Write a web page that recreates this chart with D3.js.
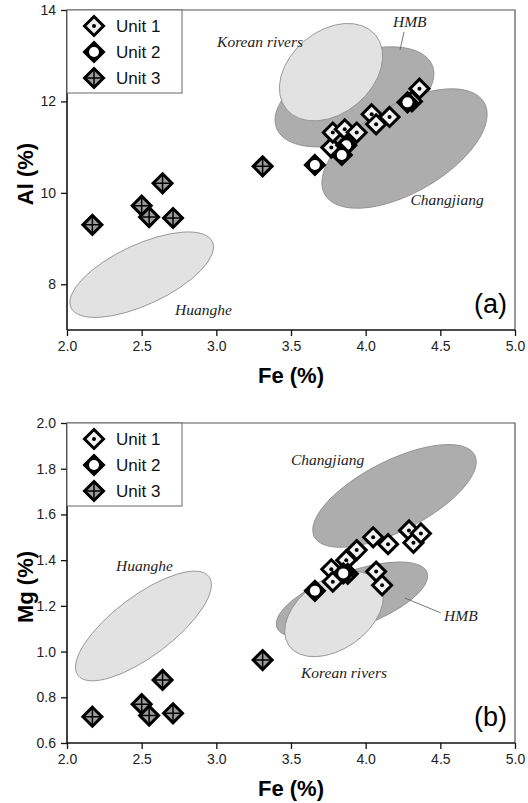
<!DOCTYPE html>
<html>
<head>
<meta charset="utf-8">
<script src="https://cdn.jsdelivr.net/npm/d3@7"></script>
<style>
  html, body { margin: 0; padding: 0; background: #fff; }
  svg { display: block; }
  text { font-family: Arial, "Liberation Sans", sans-serif; }
  .field { font-family: "Liberation Serif", "DejaVu Serif", serif; font-style: italic; }
</style>
</head>
<body>
<div id="chart"></div>
<script>
// ---- data ----
const xTicks = [2.0, 2.5, 3.0, 3.5, 4.0, 4.5, 5.0]
const alTicks = [8, 10, 12, 14]
const mgTicks = [0.6, 0.8, 1.0, 1.2, 1.4, 1.6, 1.8, 2.0]
const units = ['Unit 1', 'Unit 2', 'Unit 3']

// panel (a): Fe vs Al
const unit1FeA = [3.77, 3.78, 3.86, 3.94, 4.04, 4.07, 4.16, 4.31, 4.36]
const unit1Al = [10.99, 11.32, 11.39, 11.32, 11.72, 11.5, 11.66, 12.0, 12.28]
const unit2FeA = [3.66, 3.87, 3.84, 4.28]
const unit2Al = [10.61, 11.04, 10.83, 11.98]
const unit3FeA = [2.17, 2.5, 2.55, 2.64, 2.71, 3.31]
const unit3Al = [9.3, 9.72, 9.47, 10.21, 9.45, 10.58]

// panel (b): Fe vs Mg
const unit1FeB = [3.77, 3.78, 3.87, 3.94, 4.05, 4.07, 4.11, 4.15, 4.29, 4.32, 4.37]
const unit1Mg = [1.36, 1.306, 1.40, 1.444, 1.50, 1.35, 1.29, 1.47, 1.53, 1.476, 1.517]
const unit2FeB = [3.66, 3.88, 3.85]
const unit2Mg = [1.266, 1.34, 1.342]
const unit3FeB = [2.17, 2.5, 2.55, 2.64, 2.71, 3.31]
const unit3Mg = [0.715, 0.77, 0.72, 0.876, 0.73, 0.963]

// source fields: centre in data units
const fieldNames = ['HMB', 'Changjiang', 'Korean rivers', 'Huanghe']
const fieldFeA = [3.925, 4.26, 3.768, 2.5]
const fieldAl = [12.1, 10.97, 12.64, 8.21]
const fieldFeB = [3.908, 4.193, 3.788, 2.512]
const fieldMg = [1.226, 1.681, 1.164, 1.112]

// ---- layout ----
const width = 528
const height = 803
const x = d3.scaleLinear().domain([2, 5]).range([67, 515])

const fieldStyle = {
  'HMB': { fill: '#adadad' },
  'Changjiang': { fill: '#adadad' },
  'Korean rivers': { fill: '#e2e2e2' },
  'Huanghe': { fill: '#e2e2e2' },
}

const svg = d3.select('#chart').append('svg').attr('width', width).attr('height', height)

// marker drawing
const drawMarker = (g, unit) => {
  const r = 9.5
  const diamond = `M0,${-r}L${r},0L0,${r}L${-r},0Z`
  if (unit === 0) {
    g.append('path').attr('d', diamond).attr('fill', '#f2f2f2').attr('stroke', '#000').attr('stroke-width', 3)
    g.append('circle').attr('r', 2).attr('fill', '#000')
  } else if (unit === 1) {
    g.append('path').attr('d', diamond).attr('fill', '#000').attr('stroke', '#000').attr('stroke-width', 3)
    g.append('circle').attr('r', 5).attr('fill', '#fff')
  } else {
    g.append('path').attr('d', diamond).attr('fill', '#9c9c9c').attr('stroke', '#000').attr('stroke-width', 3)
    g.append('path').attr('d', `M${-r + 1},0H${r - 1}M0,${-r + 1}V${r - 1}`).attr('stroke', '#000').attr('stroke-width', 1.5)
  }
}

const drawPanel = ({ y, yTicks, yFmt, yTitle, panelLabel, series, fields, notes, leader }) => {
  const [y0, y1] = y.range()
  const [x0, x1] = x.range()
  const g = svg.append('g')

  // fields (ellipses)
  fields.forEach(f => {
    g.append('ellipse')
      .attr('transform', `translate(${x(f.fe)},${y(f.v)}) rotate(${-f.angle})`)
      .attr('rx', f.rx)
      .attr('ry', f.ry)
      .attr('fill', fieldStyle[f.name].fill)
      .attr('stroke', '#8c8c8c')
      .attr('stroke-width', 0.8)
  })

  // field labels
  notes.forEach(n => {
    g.append('text')
      .attr('class', 'field')
      .attr('x', x(n.fe))
      .attr('y', y(n.v))
      .attr('font-size', 15.5)
      .attr('fill', '#222')
      .text(n.name)
  })
  g.append('line')
    .attr('x1', x(leader[0][0])).attr('y1', y(leader[0][1]))
    .attr('x2', x(leader[1][0])).attr('y2', y(leader[1][1]))
    .attr('stroke', '#666').attr('stroke-width', 0.9)

  // frame top / right
  g.append('path')
    .attr('d', `M${x0},${y1}H${x1}V${y0}`)
    .attr('fill', 'none').attr('stroke', '#555').attr('stroke-width', 1.2)

  // axes
  const xAxis = g.append('g').attr('transform', `translate(0,${y0})`)
    .call(d3.axisBottom(x).tickValues(xTicks).tickFormat(d3.format('.1f')).tickSize(6).tickPadding(5))
  const yAxis = g.append('g').attr('transform', `translate(${x0},0)`)
    .call(d3.axisLeft(y).tickValues(yTicks).tickFormat(yFmt).tickSize(6).tickPadding(5))
  ;[xAxis, yAxis].forEach(a => {
    a.select('.domain').attr('stroke', '#111').attr('stroke-width', 1.6)
    a.selectAll('.tick line').attr('stroke', '#111').attr('stroke-width', 1.3)
    a.selectAll('.tick text').attr('font-size', 14).attr('fill', '#222').attr('font-family', 'Arial, "Liberation Sans", sans-serif')
  })
  xAxis.select('.domain').attr('d', `M${x0},0H${x1}`)
  yAxis.select('.domain').attr('d', `M0,${y0}V${y1}`)

  // titles
  g.append('text')
    .attr('x', (x0 + x1) / 2).attr('y', y0 + 53)
    .attr('text-anchor', 'middle').attr('font-size', 22).attr('font-weight', 'bold')
    .text('Fe (%)')
  g.append('text')
    .attr('transform', `translate(33,${(y0 + y1) / 2 + 4}) rotate(-90)`)
    .attr('text-anchor', 'middle').attr('font-size', 22).attr('font-weight', 'bold')
    .text(yTitle)
  g.append('text')
    .attr('x', x1 - 8).attr('y', y0 - 17)
    .attr('text-anchor', 'end').attr('font-size', 27)
    .text(panelLabel)

  // points
  series.forEach((s, i) => {
    s.fe.forEach((fe, j) => {
      const m = g.append('g').attr('transform', `translate(${x(fe)},${y(s.v[j])})`)
      drawMarker(m, i)
    })
  })

  // legend
  const lg = g.append('g')
  lg.append('rect')
    .attr('x', x0).attr('y', y1).attr('width', 115).attr('height', 83)
    .attr('fill', '#fff').attr('stroke', '#666').attr('stroke-width', 1)
  units.forEach((u, i) => {
    const row = lg.append('g').attr('transform', `translate(${x0 + 27},${y1 + 16 + i * 26})`)
    drawMarker(row, i)
    row.append('text').attr('x', 22).attr('y', 6).attr('font-size', 17).attr('fill', '#111').text(u)
  })
}

// ---- panel (a) ----
const yA = d3.scaleLinear().domain([7, 14]).range([330, 10])
drawPanel({
  y: yA,
  yTicks: alTicks,
  yFmt: d3.format('d'),
  yTitle: 'Al (%)',
  panelLabel: '(a)',
  series: [
    { fe: unit1FeA, v: unit1Al },
    { fe: unit2FeA, v: unit2Al },
    { fe: unit3FeA, v: unit3Al },
  ],
  fields: [
    { name: 'HMB', fe: fieldFeA[0], v: fieldAl[0], rx: 84, ry: 42, angle: 22 },
    { name: 'Changjiang', fe: fieldFeA[1], v: fieldAl[1], rx: 92, ry: 44, angle: 30 },
    { name: 'Korean rivers', fe: fieldFeA[2], v: fieldAl[2], rx: 58, ry: 41, angle: 40 },
    { name: 'Huanghe', fe: fieldFeA[3], v: fieldAl[3], rx: 78, ry: 30, angle: 25 },
  ],
  notes: [
    { name: 'Korean rivers', fe: 3.005, v: 13.19 },
    { name: 'HMB', fe: 4.183, v: 13.63 },
    { name: 'Changjiang', fe: 4.3, v: 9.73 },
    { name: 'Huanghe', fe: 2.723, v: 7.33 },
  ],
  leader: [[4.257, 13.52], [4.23, 13.125]],
})

// ---- panel (b) ----
const yB = d3.scaleLinear().domain([0.6, 2.0]).range([743, 423])
drawPanel({
  y: yB,
  yTicks: mgTicks,
  yFmt: d3.format('.1f'),
  yTitle: 'Mg (%)',
  panelLabel: '(b)',
  series: [
    { fe: unit1FeB, v: unit1Mg },
    { fe: unit2FeB, v: unit2Mg },
    { fe: unit3FeB, v: unit3Mg },
  ],
  fields: [
    { name: 'Changjiang', fe: fieldFeB[1], v: fieldMg[1], rx: 90, ry: 35, angle: 27 },
    { name: 'HMB', fe: fieldFeB[0], v: fieldMg[0], rx: 80, ry: 28, angle: 20 },
    { name: 'Korean rivers', fe: fieldFeB[2], v: fieldMg[2], rx: 55, ry: 35, angle: 35 },
    { name: 'Huanghe', fe: fieldFeB[3], v: fieldMg[3], rx: 82, ry: 30, angle: 37 },
  ],
  notes: [
    { name: 'Changjiang', fe: 3.5, v: 1.816 },
    { name: 'Huanghe', fe: 2.328, v: 1.353 },
    { name: 'HMB', fe: 4.525, v: 1.134 },
    { name: 'Korean rivers', fe: 3.567, v: 0.884 },
  ],
  leader: [[4.504, 1.169], [4.263, 1.234]],
})
</script>
</body>
</html>
